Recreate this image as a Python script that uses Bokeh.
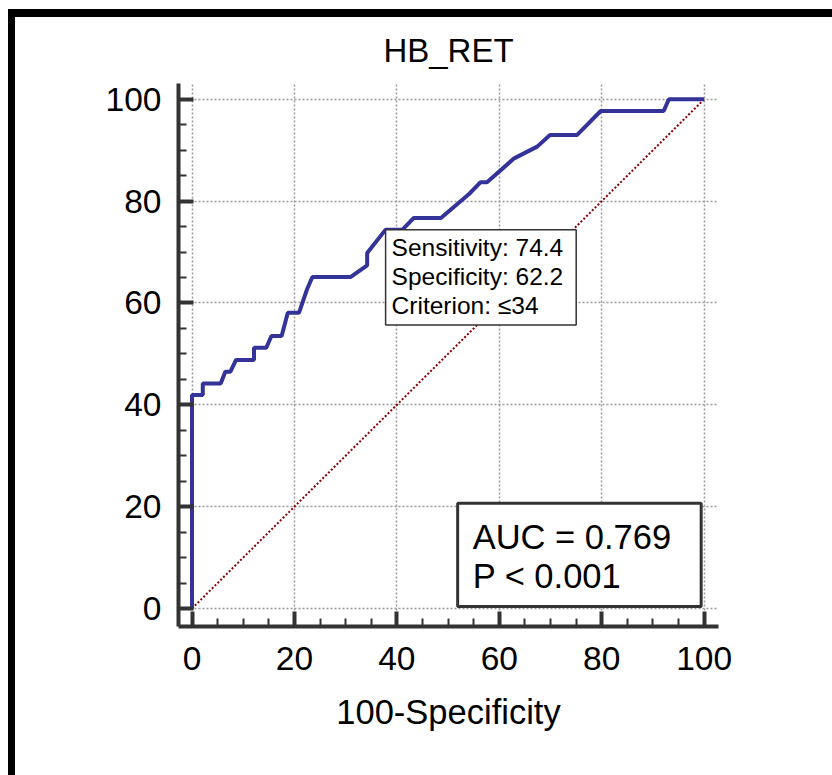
from bokeh.plotting import figure
from bokeh.models import Range1d, Label, FixedTicker
from bokeh.embed import file_html
from bokeh.resources import INLINE

# ROC curve (100-Specificity, Sensitivity)
fpr = [0, 0, 2.1, 2.1, 5.6, 6.5, 7.5, 8.6, 12.1, 12.1, 14.5, 15.5, 17.5, 18.7, 20.9,
       22.5, 23.5, 31.0, 34.2, 34.2, 37.8, 41.1, 43.3, 48.6, 54.1, 56.3, 57.6, 62.9,
       67.4, 69.9, 75.2, 79.8, 92.1, 93.1, 100]
tpr = [0, 41.9, 41.9, 44.2, 44.2, 46.5, 46.5, 48.8, 48.8, 51.2, 51.2, 53.5, 53.5, 58.1,
       58.1, 62.8, 65.1, 65.1, 67.4, 69.8, 74.4, 74.4, 76.7, 76.7, 81.4, 83.7, 83.7,
       88.4, 90.7, 93.0, 93.0, 97.7, 97.7, 100, 100]
ref_x = [0, 100]
ref_y = [0, 100]
ticks = [0, 20, 40, 60, 80, 100]
crit_x, crit_y = 37.8, 74.4
crit_text = "Sensitivity: 74.4\nSpecificity: 62.2\nCriterion: \u226434"
auc_text = "AUC = 0.769\nP < 0.001"
title_text = "HB_RET"
xlabel = "100-Specificity"

FONT = "Liberation Sans"

p = figure(width=832, height=775, output_backend="svg", toolbar_location=None,
           x_range=Range1d(-2.64, 102.8), y_range=Range1d(-3.54, 103.1),
           min_border_left=178, min_border_right=114, min_border_top=83,
           min_border_bottom=149, title=title_text)
p.outline_line_color = None
p.background_fill_color = "white"
p.border_fill_color = None
p.styles = {
    "background": "linear-gradient(#000, #000) 8px 9px / 7px 766px no-repeat, "
                  "linear-gradient(#000, #000) 8px 9px / 824px 8px no-repeat, #ffffff"
}

p.title.text_font = FONT
p.title.text_font_size = "33px"
p.title.text_font_style = "normal"
p.title.text_color = "black"
p.title.align = "center"
p.title.standoff = 30

for ax in (p.xaxis[0], p.yaxis[0]):
    ax.ticker = FixedTicker(ticks=ticks, minor_ticks=[v for v in range(0, 101, 5)])
    ax.axis_line_color = "#333333"
    ax.axis_line_width = 4
    ax.major_tick_line_color = "#333333"
    ax.major_tick_line_width = 4
    ax.minor_tick_line_color = "#333333"
    ax.minor_tick_line_width = 2
    ax.major_tick_in = 15
    ax.major_tick_out = 0
    ax.minor_tick_in = 8
    ax.minor_tick_out = 0
    ax.major_label_text_font = FONT
    ax.major_label_text_font_size = "33.5px"
    ax.major_label_text_color = "black"
    ax.axis_label_text_font = FONT
    ax.axis_label_text_font_size = "34.5px"
    ax.axis_label_text_font_style = "normal"
    ax.axis_label_text_color = "black"

p.xaxis.major_label_standoff = 20
p.xaxis.axis_label = xlabel
p.xaxis.axis_label_standoff = 20
p.yaxis.major_label_standoff = 17

for g in (p.xgrid[0], p.ygrid[0]):
    g.ticker = FixedTicker(ticks=ticks)
    g.grid_line_color = "#9a9a9a"
    g.grid_line_width = 1.5
    g.grid_line_dash = "2 2"

p.line(ref_x, ref_y, line_color="#8b0000", line_width=2, line_dash="2 2")
p.line(fpr, tpr, line_color="#333399", line_width=4)

# padding order: (left, right, top, bottom)
crit = Label(x=crit_x, y=crit_y, text=crit_text, text_font=FONT, text_font_size="24.5px",
             text_color="black", text_align="left", text_baseline="top",
             text_line_height=1.08,
             background_fill_color="white", border_line_color="#333333",
             border_line_width=1.5, padding=(6, 13, 4, 6))
p.add_layout(crit)

auc = Label(x=100, y=0, text=auc_text, text_font=FONT, text_font_size="34.5px",
            text_color="black", text_align="left", text_baseline="top",
            anchor="bottom_right", text_line_height=1.03, x_offset=-3, y_offset=2,
            background_fill_color="white", border_line_color="#333333",
            border_line_width=3, padding=(15, 30, 15, 11))
p.add_layout(auc)

open("out.html", "w").write(file_html(p, INLINE))
